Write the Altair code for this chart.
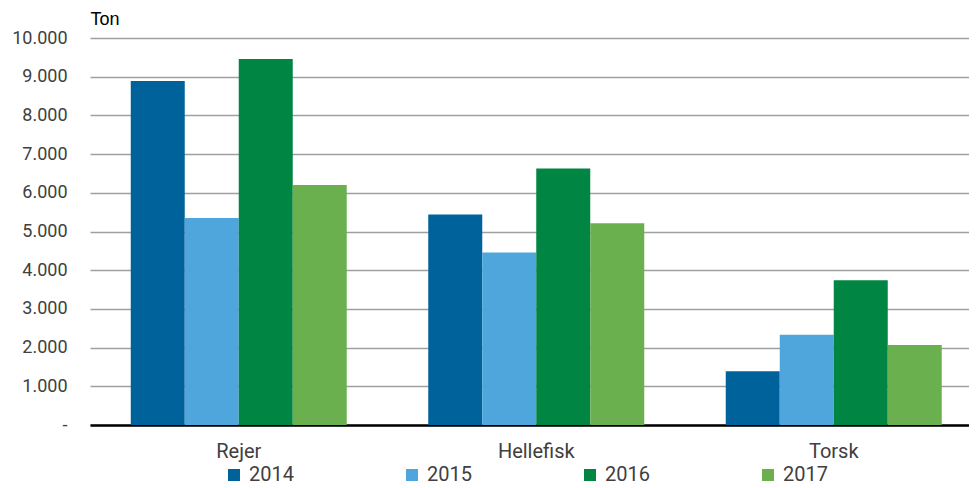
import altair as alt
import pandas as pd

categories = ["Rejer", "Hellefisk", "Torsk"]
years = ["2014", "2015", "2016", "2017"]
v2014 = [8890, 5440, 1390]
v2015 = [5350, 4460, 2330]
v2016 = [9460, 6630, 3740]
v2017 = [6200, 5210, 2070]
colors = ["#00629A", "#4EA6DC", "#008542", "#6AB04E"]

series = {"2014": v2014, "2015": v2015, "2016": v2016, "2017": v2017}
rows = []
for y in years:
    for c, v in zip(categories, series[y]):
        rows.append({"Art": c, "Aar": y, "Ton": v})
df = pd.DataFrame(rows)

FONT = "Roboto, Open Sans, sans-serif"

chart = alt.Chart(df).mark_bar().encode(
    x=alt.X(
        "Art:N",
        sort=categories,
        scale=alt.Scale(range=[0, 892.5], paddingInner=0.274, paddingOuter=0.137),
        axis=alt.Axis(
            title=None, labelAngle=0, ticks=False, domainColor="black",
            domainWidth=2.5, labelFontSize=20, labelPadding=16,
            labelColor="#404040", labelFont=FONT,
        ),
    ),
    xOffset=alt.XOffset("Aar:N", sort=years, scale=alt.Scale(paddingInner=0, paddingOuter=0)),
    y=alt.Y(
        "Ton:Q",
        scale=alt.Scale(domain=[0, 10000], nice=False),
        axis=alt.Axis(
            values=list(range(0, 10001, 1000)),
            labelExpr="datum.value == 0 ? '-' : replace(format(datum.value, ','), ',', '.')",
            title="Ton", titleAngle=0, titleX=0, titleY=-14, titleAlign="left",
            titleBaseline="alphabetic", titleFontSize=18, titleFontWeight="normal",
            titleFont="Liberation Sans, sans-serif", titleColor="black",
            gridColor="#A0A0A0", gridWidth=1.5, domain=False, ticks=False,
            labelPadding=23, labelFontSize=18, labelColor="#404040", labelFont=FONT,
        ),
    ),
    color=alt.Color(
        "Aar:N",
        scale=alt.Scale(domain=years, range=colors),
        legend=alt.Legend(
            orient="none", legendX=134, legendY=427, direction="horizontal",
            title=None, symbolType="square", symbolSize=144, symbolStrokeWidth=0,
            labelFontSize=20, labelFont=FONT, labelColor="#404040",
            columnPadding=108, labelOffset=5, padding=0,
        ),
    ),
).properties(
    width=879, height=387,
    autosize=alt.AutoSizeParams(type="none"),
    padding={"left": 82, "top": 30, "right": 0, "bottom": 63},
).configure_view(stroke=None)

chart.save("out.html", embed_options={"renderer": "svg", "actions": False})
